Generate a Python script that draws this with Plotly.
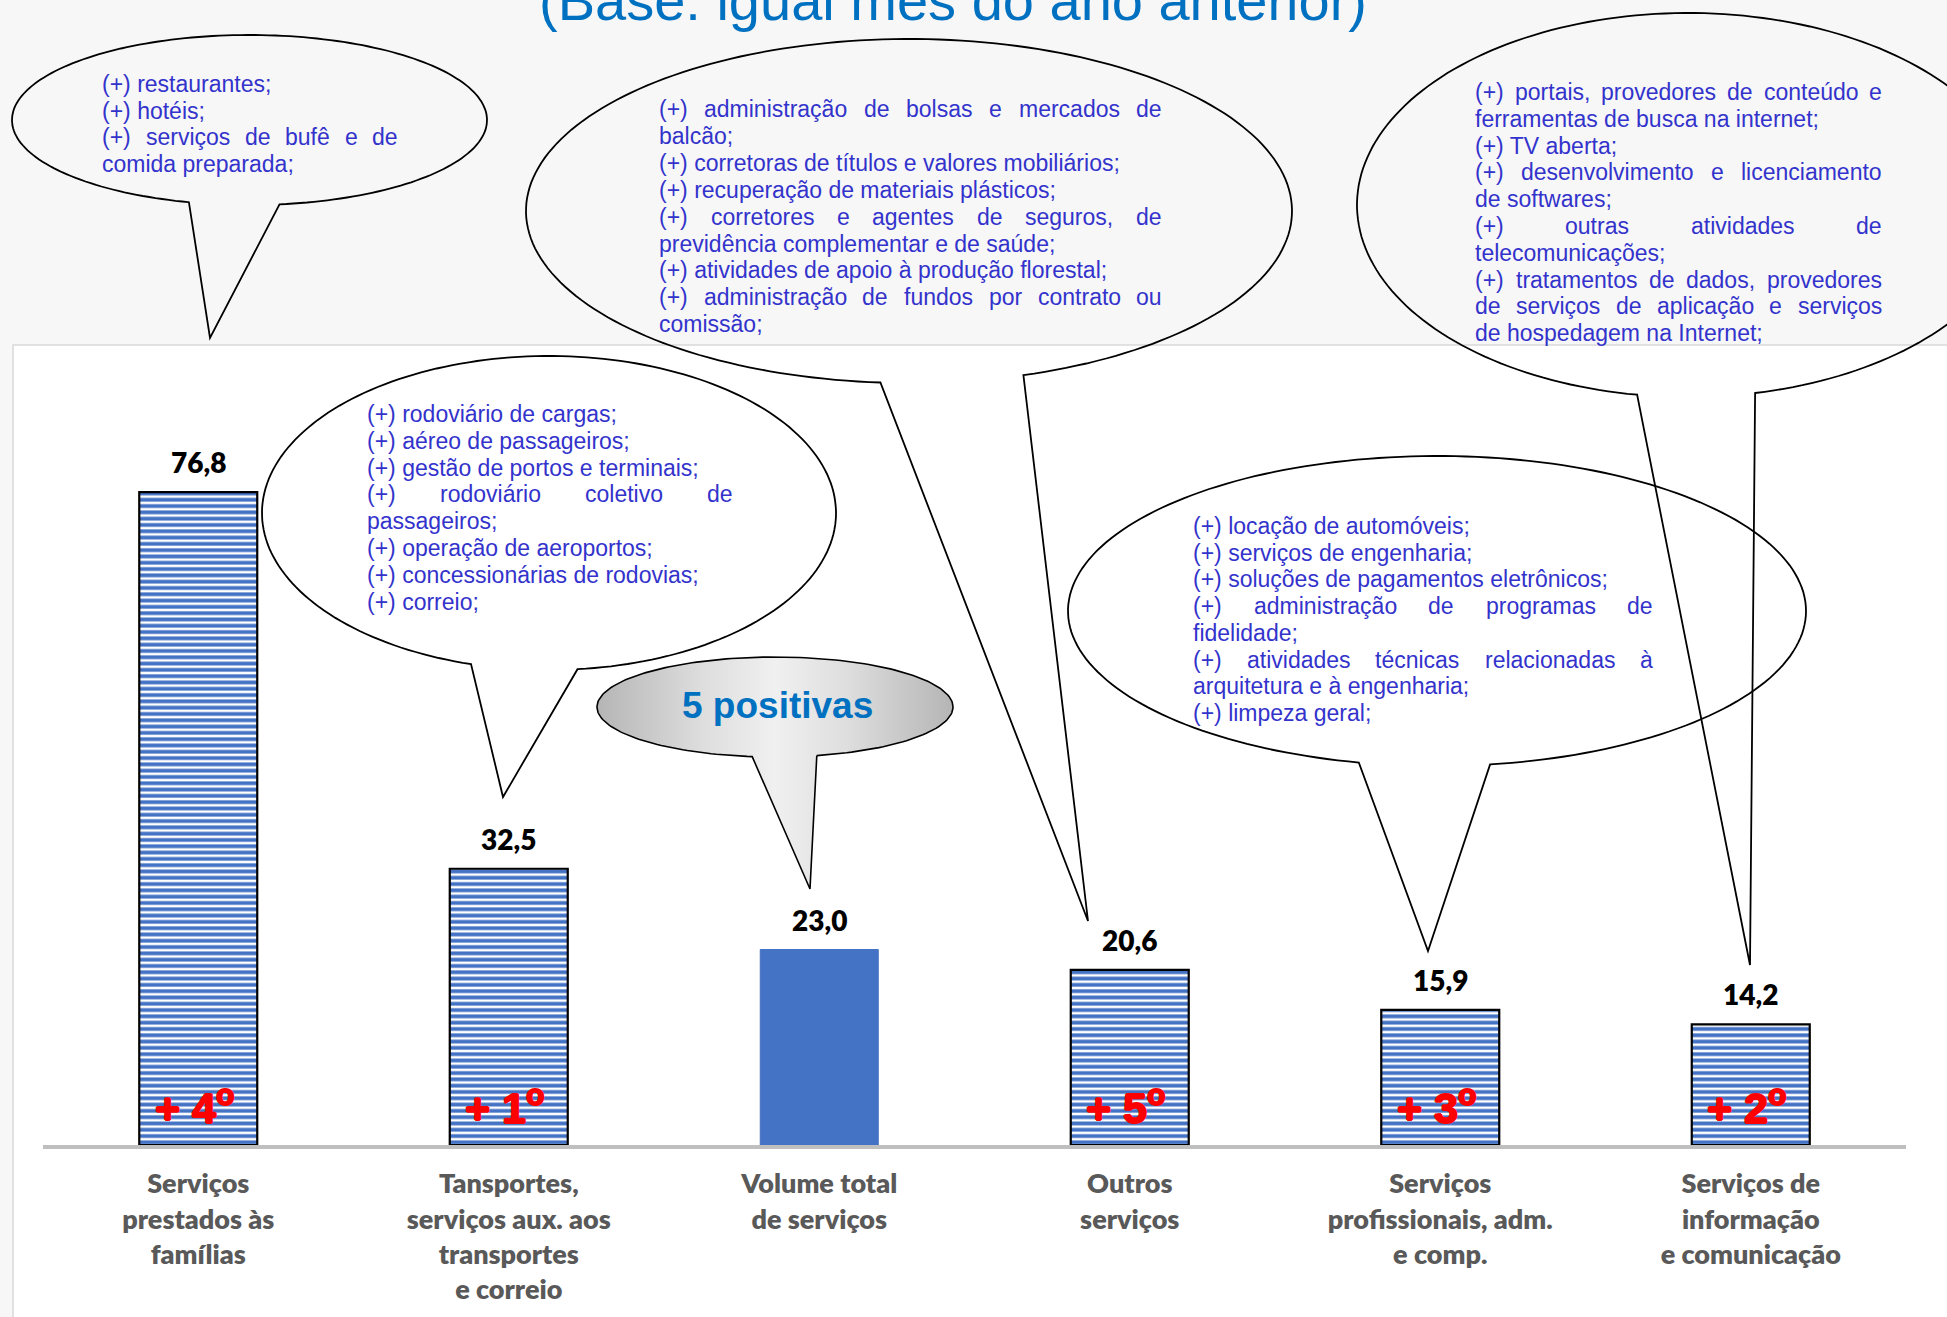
import numpy as np
import plotly.graph_objects as go

W, H = 1947, 1317

# ---- data -------------------------------------------------------------
categories = [
    "Serviços prestados às famílias",
    "Tansportes, serviços aux. aos transportes e correio",
    "Volume total de serviços",
    "Outros serviços",
    "Serviços profissionais, adm. e comp.",
    "Serviços de informação e comunicação",
]
tick_labels = [
    "Serviços<br>prestados às<br>famílias",
    "Tansportes,<br>serviços aux. aos<br>transportes<br>e correio",
    "Volume total<br>de serviços",
    "Outros<br>serviços",
    "Serviços<br>profissionais, adm.<br>e comp.",
    "Serviços de<br>informação<br>e comunicação",
]
values = [76.8, 32.5, 23.0, 20.6, 15.9, 14.2]
ranks = ["4", "1", "", "5", "3", "2"]  # "" = total (solid bar)

title_text = "(Base: igual mês do ano anterior)"
summary_text = "5 positivas"

# (text, justified)
familias_lines = [
    ("(+) restaurantes;", False),
    ("(+) hotéis;", False),
    ("(+) serviços de bufê e de", True),
    ("comida preparada;", False),
]
outros_lines = [
    ("(+) administração de bolsas e mercados de", True),
    ("balcão;", False),
    ("(+) corretoras de títulos e valores mobiliários;", False),
    ("(+) recuperação de materiais plásticos;", False),
    ("(+) corretores e agentes de seguros, de", True),
    ("previdência complementar e de saúde;", False),
    ("(+) atividades de apoio à produção florestal;", False),
    ("(+) administração de fundos por contrato ou", True),
    ("comissão;", False),
]
informacao_lines = [
    ("(+) portais, provedores de conteúdo e", True),
    ("ferramentas de busca na internet;", False),
    ("(+) TV aberta;", False),
    ("(+) desenvolvimento e licenciamento", True),
    ("de softwares;", False),
    ("(+) outras atividades de", True),
    ("telecomunicações;", False),
    ("(+) tratamentos de dados, provedores", True),
    ("de serviços de aplicação e serviços", True),
    ("de hospedagem na Internet;", False),
]
transportes_lines = [
    ("(+) rodoviário de cargas;", False),
    ("(+) aéreo de passageiros;", False),
    ("(+) gestão de portos e terminais;", False),
    ("(+) rodoviário coletivo de", True),
    ("passageiros;", False),
    ("(+) operação de aeroportos;", False),
    ("(+) concessionárias de rodovias;", False),
    ("(+) correio;", False),
]
profissionais_lines = [
    ("(+) locação de automóveis;", False),
    ("(+) serviços de engenharia;", False),
    ("(+) soluções de pagamentos eletrônicos;", False),
    ("(+) administração de programas de", True),
    ("fidelidade;", False),
    ("(+) atividades técnicas relacionadas à", True),
    ("arquitetura e à engenharia;", False),
    ("(+) limpeza geral;", False),
]

# ---- style ------------------------------------------------------------
BLUE = "#4472C4"
TEXT_BLUE = "#3333CC"
TITLE_BLUE = "#0070C0"
RED = "#FF0000"
ARIAL = "Liberation Sans, Arial, sans-serif"
LABEL_FONT = "Lato, Open Sans, sans-serif"
TXT_SIZE = 23

# Arial advance widths (1/1000 em) for justification
_w = {c: 556 for c in "abdeghnopqu"}
_w.update({c: 500 for c in "cksvxyzç"})
_w.update({"f": 278, "i": 222, "j": 222, "l": 222, "m": 833, "r": 333,
           "t": 278, "w": 722, "í": 278, "T": 611, "V": 667, "I": 278,
           "(": 333, ")": 333, "+": 584, ",": 278, ";": 278, ".": 278,
           " ": 278})
for c in "áàâãéêóôõú":
    _w[c] = 556


def text_w(s, size):
    return sum(_w.get(c, 556) for c in s) / 1000 * size


def bubble_path(cx, cy, rx, ry, left, tip, right, n=200):
    a0 = np.arctan2((right[1] - cy) / ry, (right[0] - cx) / rx)
    a1 = np.arctan2((left[1] - cy) / ry, (left[0] - cx) / rx)
    t = np.linspace(a0, a1 - 2 * np.pi, n)
    xs = list(cx + rx * np.cos(t)) + [tip[0], cx + rx * np.cos(a0)]
    ys = list(cy + ry * np.sin(t)) + [tip[1], cy + ry * np.sin(a0)]
    return xs, ys


fig = go.Figure()

# bars: striped activities + solid total
fig.add_trace(go.Bar(
    x=categories,
    y=[v if r else None for v, r in zip(values, ranks)],
    width=0.38,
    marker=dict(
        color="white",
        line=dict(color="black", width=2.2),
        pattern=dict(shape="-", fgcolor=BLUE, bgcolor="white", fgopacity=1,
                     size=6.3, solidity=0.6, fillmode="replace"),
    ),
    hoverinfo="skip",
))
fig.add_trace(go.Bar(
    x=categories,
    y=[None if r else v for v, r in zip(values, ranks)],
    width=0.38,
    marker=dict(color=BLUE, line=dict(color=BLUE, width=1)),
    hoverinfo="skip",
))

# grey "5 positivas" bubble (pixel-space overlay axes)
gx, gy = bubble_path(775, 707, 178, 50, (752, 757), (810, 889), (818, 757))
fig.add_trace(go.Scatter(
    x=gx, y=gy, xaxis="x2", yaxis="y2", mode="lines", fill="toself",
    line=dict(color="black", width=1.6),
    fillgradient=dict(type="horizontal", start=597, stop=953,
                      colorscale=[[0, "#B5B5B5"], [0.3, "#DEDEDE"], [0.5, "#F0F0F0"],
                                  [0.7, "#DEDEDE"], [1, "#B5B5B5"]]),
    hoverinfo="skip",
))

# white chart box
fig.add_shape(type="rect", xref="paper", yref="paper",
              x0=13 / W, x1=1.01, y0=-0.01, y1=1 - 345 / H,
              fillcolor="white", line=dict(color="#D9D9D9", width=1.5), layer="below")

# speech bubbles
bubbles = [
    (249.5, 120, 237.5, 85, (189, 202), (210, 338), (279, 203)),
    (909, 211, 383, 172, (880, 385), (1088, 921), (1024, 376)),
    (1688, 205, 331, 192, (1637, 395), (1750, 965), (1754, 390)),
    (549, 513, 287, 157, (470, 666), (503, 797), (578, 672)),
    (1437, 611, 369, 155, (1356, 768), (1428, 951), (1491, 767)),
]
for cx, cy, rx, ry, lj, tip, rj in bubbles:
    xs, ys = bubble_path(cx, cy, rx, ry, lj, tip, rj)
    path = "M " + " L ".join(f"{x:.1f},{y:.1f}" for x, y in zip(xs, ys)) + " Z"
    fig.add_shape(type="path", path=path, xref="x2", yref="y2", layer="above",
                  line=dict(color="black", width=1.8), fillcolor="rgba(0,0,0,0)")


def add_paragraph(lines, left, right, top, step, size=TXT_SIZE, family=ARIAL):
    font = dict(family=family, size=size, color=TEXT_BLUE)
    for i, (txt, just) in enumerate(lines):
        y = top + i * step
        words = txt.split(" ")
        if not just or len(words) < 2:
            fig.add_annotation(x=left, y=y, text=txt, xref="x2", yref="y2",
                               xanchor="left", yanchor="middle", showarrow=False,
                               font=font, borderpad=0)
            continue
        widths = [text_w(w, size) for w in words]
        gap = max((right - left - sum(widths)) / (len(words) - 1), 0.278 * size)
        x = left
        for w, ww in zip(words, widths):
            fig.add_annotation(x=x, y=y, text=w, xref="x2", yref="y2",
                               xanchor="left", yanchor="middle", showarrow=False,
                               font=font, borderpad=0)
            x += ww + gap


add_paragraph(familias_lines, 101, 397, 84, 26.7)
add_paragraph(outros_lines, 658, 1161, 109, 26.9)
add_paragraph(informacao_lines, 1474, 1881, 92, 26.8)
add_paragraph(transportes_lines, 366, 732, 414, 26.8)
add_paragraph(profissionais_lines, 1192, 1652, 526, 26.7)

fig.add_annotation(x=777, y=705, xref="x2", yref="y2", text=f"<b>{summary_text}</b>",
                   showarrow=False, font=dict(family=ARIAL, size=37, color=TITLE_BLUE))

# title (top clipped by the page edge, as in the original)
fig.add_annotation(x=953, y=34, xref="x2", yref="y2", text=title_text,
                   xanchor="center", yanchor="bottom", showarrow=False,
                   font=dict(family=ARIAL, size=56, color=TITLE_BLUE))

# value labels and rank labels
heavy = f"1px 0 0 {RED}, -1px 0 0 {RED}, 0 1px 0 {RED}, 0 -1px 0 {RED}"
for cat, v, r in zip(categories, values, ranks):
    fig.add_annotation(x=cat, y=v, text=f"{v:.1f}".replace(".", ","),
                       showarrow=False, yanchor="middle", yshift=30,
                       font=dict(family=LABEL_FONT, size=28, color="black", weight=800))
    if r:
        fig.add_annotation(x=cat, y=0, text=f"<b>+ {r}<sup>o</sup></b>",
                           showarrow=False, yanchor="middle", yshift=40, xshift=-4,
                           font=dict(family=ARIAL, size=43, color=RED, shadow=heavy))

fig.update_layout(
    width=W, height=H,
    margin=dict(l=0, r=0, t=0, b=0),
    paper_bgcolor="#F7F7F7",
    plot_bgcolor="rgba(0,0,0,0)",
    showlegend=False,
    barmode="overlay",
    xaxis=dict(
        domain=[43 / W, 1906 / W], range=[-0.5, 5.5],
        tickvals=categories, ticktext=tick_labels,
        tickfont=dict(family=LABEL_FONT, size=27, color="#595959", weight=800),
        showline=True, linecolor="#BFBFBF", linewidth=4,
        showgrid=False, zeroline=False, ticks="", ticklabelstandoff=12,
        fixedrange=True,
    ),
    yaxis=dict(
        domain=[(H - 1145) / H, (H - 295) / H], range=[0, 100],
        visible=False, fixedrange=True,
    ),
    xaxis2=dict(domain=[0, 1], range=[0, W], visible=False, anchor="y2",
                fixedrange=True),
    yaxis2=dict(domain=[0, 1], range=[H, 0], visible=False, anchor="x2",
                fixedrange=True),
)

fig.write_html("out.html", config={"displayModeBar": False},
               post_script="document.body.style.margin='0';")
